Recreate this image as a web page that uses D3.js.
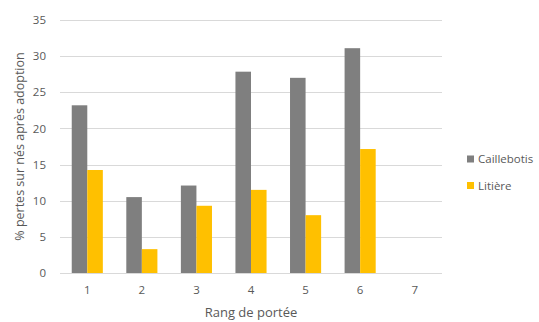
<!DOCTYPE html>
<html>
<head>
<meta charset="utf-8">
<script src="https://cdn.jsdelivr.net/npm/d3@7"></script>
<style>
  html, body { margin: 0; padding: 0; background: #fff; }
  svg { display: block; font-family: "Open Sans", "Lato", sans-serif; }
</style>
</head>
<body>
<svg id="chart" width="539" height="322"></svg>
<script>
// Pertes (%) sur nés après adoption, par rang de portée
const categories = ["1", "2", "3", "4", "5", "6", "7"];
const seriesNames = ["Caillebotis", "Litière"];
const caillebotis = [23.2, 10.5, 12.1, 27.85, 27.0, 31.1, null];
const litiere = [14.25, 3.3, 9.3, 11.5, 8.0, 17.15, null];
const yTicks = [0, 5, 10, 15, 20, 25, 30, 35];
const colors = ["#7f7f7f", "#ffc000"];

const svg = d3.select("#chart");
const margin = { left: 60, right: 97, top: 20, bottom: 49 };
const W = 539, H = 322;

const x = d3.scaleBand()
  .domain(categories)
  .range([margin.left, W - margin.right])
  .paddingInner(0.43)
  .paddingOuter(0.215);

const y = d3.scaleLinear()
  .domain([0, 35])
  .range([H - margin.bottom, margin.top]);

const xSub = d3.scaleBand()
  .domain(seriesNames)
  .range([0, x.bandwidth()]);

// horizontal gridlines
svg.append("g")
  .selectAll("line")
  .data(yTicks)
  .join("line")
  .attr("x1", margin.left)
  .attr("x2", W - margin.right)
  .attr("y1", d => Math.round(y(d)) + 0.5)
  .attr("y2", d => Math.round(y(d)) + 0.5)
  .attr("stroke", "#d9d9d9")
  .attr("stroke-width", 1);

// y axis labels
const yAxis = svg.append("g")
  .attr("transform", `translate(${margin.left},0)`)
  .call(d3.axisLeft(y).tickValues(yTicks).tickSize(0).tickPadding(14));
yAxis.select(".domain").remove();
yAxis.selectAll("text")
  .attr("fill", "#595959")
  .style("font-size", "11.5px")
  .style("font-family", "'Open Sans', sans-serif");

// bars
const data = categories.map((c, i) => ({ cat: c, values: [caillebotis[i], litiere[i]] }));
const groups = svg.append("g")
  .selectAll("g")
  .data(data)
  .join("g")
  .attr("transform", d => `translate(${x(d.cat)},0)`);

groups.selectAll("rect")
  .data(d => d.values.map((v, k) => ({ key: seriesNames[k], v, k })).filter(e => e.v != null))
  .join("rect")
  .attr("x", d => xSub(d.key))
  .attr("width", xSub.bandwidth())
  .attr("y", d => y(d.v))
  .attr("height", d => y(0) - y(d.v))
  .attr("fill", d => colors[d.k]);

// x axis
const xAxis = svg.append("g")
  .attr("transform", `translate(0,${Math.round(y(0)) + 0.5})`)
  .call(d3.axisBottom(x).tickSize(0).tickPadding(12));
xAxis.select(".domain")
  .attr("stroke", "#d9d9d9")
  .attr("d", `M${margin.left},0H${W - margin.right}`);
xAxis.selectAll("text")
  .attr("fill", "#595959")
  .style("font-size", "11.5px")
  .style("font-family", "'Open Sans', sans-serif");

// axis titles
svg.append("text")
  .attr("x", (margin.left + W - margin.right) / 2)
  .attr("y", 317)
  .attr("text-anchor", "middle")
  .attr("fill", "#595959")
  .style("font-size", "13px")
  .text("Rang de portée");

svg.append("text")
  .attr("transform", `translate(24,${(margin.top + H - margin.bottom) / 2}) rotate(-90)`)
  .attr("text-anchor", "middle")
  .attr("fill", "#595959")
  .style("font-size", "12.5px")
  .text("% pertes sur nés après adoption");

// legend
const legend = svg.append("g")
  .selectAll("g")
  .data(seriesNames)
  .join("g")
  .attr("transform", (d, i) => `translate(467,${159 + i * 26.5})`);
legend.append("rect")
  .attr("x", 0).attr("y", -3.5)
  .attr("width", 7).attr("height", 7)
  .attr("fill", (d, i) => colors[i]);
legend.append("text")
  .attr("x", 11)
  .attr("y", 0)
  .attr("dy", "0.35em")
  .attr("fill", "#595959")
  .style("font-size", "11.5px")
  .text(d => d);
</script>
</body>
</html>
